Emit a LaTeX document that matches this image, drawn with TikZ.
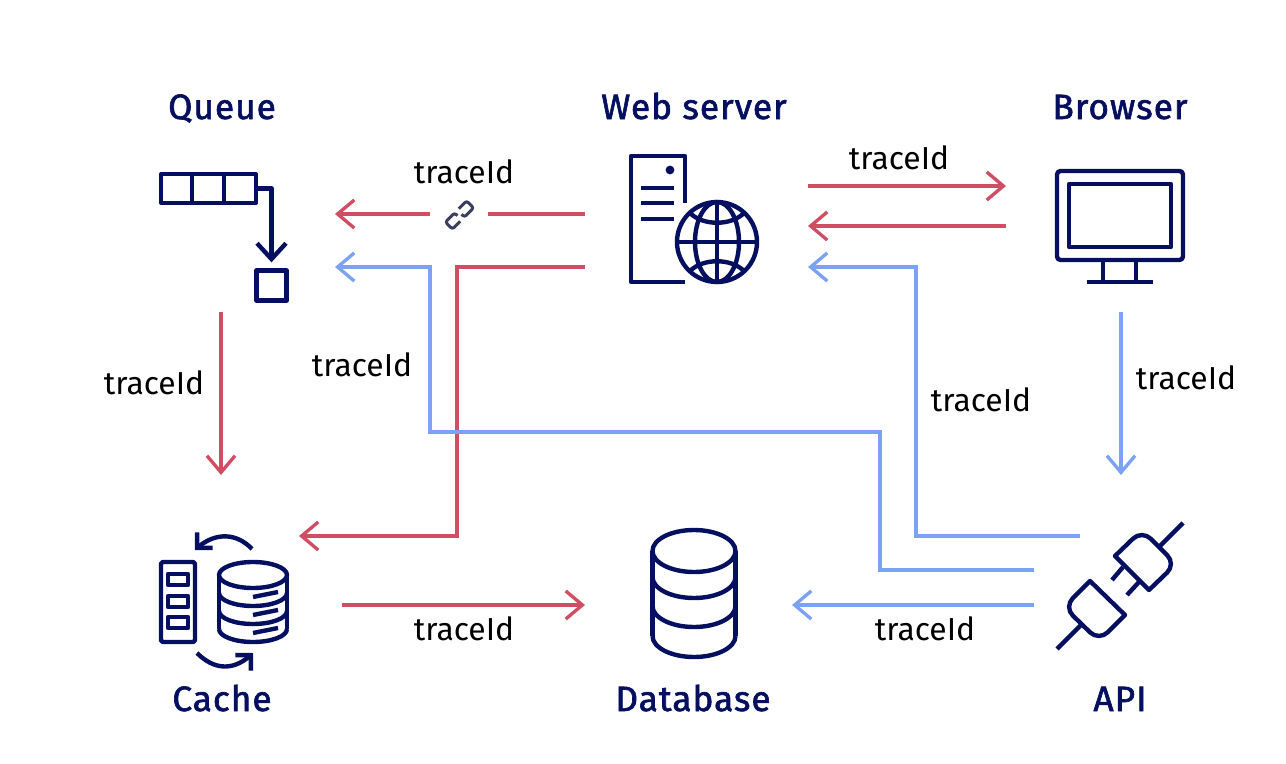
\documentclass[tikz,border=0pt]{standalone}
\usepackage{fontspec}
\setmainfont{Fira Sans}
\newfontfamily\titlefont[FakeBold=1.8, LetterSpace=3]{Fira Sans}
\usetikzlibrary{arrows.meta,bending}
\definecolor{navyc}{HTML}{050F60}
\definecolor{redc}{HTML}{D04E63}
\definecolor{bluec}{HTML}{7CA2F6}
\definecolor{linkc}{HTML}{3A3F5E}
\tikzset{
    title/.style={text=navyc, font=\titlefont\fontsize{20}{22}\selectfont, inner sep=0pt, anchor=base},
    tracelabel/.style={text=black, font=\fontsize{18.1}{20}\selectfont, inner sep=0pt},
    icon/.style={draw=navyc, line width=2.5pt, line join=round},
    redline/.style={draw=redc, line width=1.9pt, -{Straight Barb[length=9.5pt, width=16pt, line width=1.9pt]}},
    blueline/.style={draw=bluec, line width=1.9pt, -{Straight Barb[length=9.5pt, width=16pt, line width=1.9pt]}},
    redplain/.style={draw=redc, line width=1.9pt},
    navyarrow/.style={icon, -{Straight Barb[length=9pt, width=16.5pt, line width=2.5pt]}},
    cyclearrow/.style={icon, -{Straight Barb[length=6.2pt, width=12.5pt, line width=2.5pt, flex=0]}}
}

\begin{document}
\begin{tikzpicture}[x=0.02cm, y=-0.02cm]
            \useasboundingbox (0,0) rectangle (1286,764);

            \node[title] (queue) at (222,119) {Queue};
            \node[title] (web) at (694,119) {Web server};
            \node[title] (browser) at (1120,119) {Browser};
            \node[title] (cache) at (222,711) {Cache};
            \node[title] (database) at (693,711) {Database};
            \node[title] (api) at (1120,711) {API};

            \node[tracelabel] (tracea) at (464,172) {traceId};
            \node[tracelabel] (traceb) at (899,158) {traceId};
            \node[tracelabel] (tracec) at (362,365) {traceId};
            \node[tracelabel] (traced) at (154,383) {traceId};
            \node[tracelabel] (tracee) at (1186,378) {traceId};
            \node[tracelabel] (tracef) at (981,400) {traceId};
            \node[tracelabel] (traceg) at (464,629) {traceId};
            \node[tracelabel] (traceh) at (925,629) {traceId};

            \coordinate (webA) at (585,214);
            \coordinate (webB) at (585,267);
            \coordinate (webC) at (808,186);
            \coordinate (webD) at (808,226);
            \coordinate (webE) at (808,267);
            \coordinate (queueA) at (335,214);
            \coordinate (queueB) at (335,267);
            \coordinate (queueC) at (221,312);
            \coordinate (browserA) at (1006,186);
            \coordinate (browserB) at (1006,226);
            \coordinate (browserC) at (1121,312);
            \coordinate (cacheA) at (221,475);
            \coordinate (cacheB) at (299,536);
            \coordinate (cacheC) at (342,605);
            \coordinate (databaseA) at (585,605);
            \coordinate (databaseB) at (792,605);
            \coordinate (apiA) at (1121,475);
            \coordinate (apiB) at (1080,536);
            \coordinate (apiC) at (1034,570);
            \coordinate (apiD) at (1034,605);

            \node[minimum width=1.16cm, minimum height=0.7cm, inner sep=0pt] (link) at (459,214) {};
            \draw[redplain] (webA) -- (link);
            \draw[redline] (link) -- (queueA);
            \begin{scope}[shift={(459.5,215)}, rotate=45, line width=1.7pt, rounded corners=1.4pt]
                \draw[linkc] (-4,5) -- (-15,5) -- (-15,-5) -- (-2,-5) -- (-2,-1);
                \draw[linkc] (4,-5) -- (15,-5) -- (15,5) -- (2,5) -- (2,1);
            \end{scope}

            \draw[redline] (webB) -- (457,267) -- (457,536) -- (cacheB);
            \draw[blueline] (apiC) -- (880,570) -- (880,432) -- (430,432) -- (430,267) -- (queueB);
            \draw[blueline] (apiB) -- (916,536) -- (916,267) -- (webE);
            \draw[redline] (webC) -- (browserA);
            \draw[redline] (browserB) -- (webD);
            \draw[redline] (queueC) -- (cacheA);
            \draw[blueline] (browserC) -- (apiA);
            \draw[redline] (cacheC) -- (databaseA);
            \draw[blueline] (apiD) -- (databaseB);

            \node[icon, draw, minimum width=1.89cm, minimum height=0.58cm, inner sep=0pt] (queuebar) at (208.5,188.5) {};
            \draw[icon] (192,175) -- (192,203);
            \draw[icon] (224,175) -- (224,203);
            \node[icon, draw, minimum width=0.6cm, minimum height=0.6cm, inner sep=0pt] (queueslot) at (271.5,285.5) {};
            \draw[navyarrow] (queuebar.east) -| ([yshift=3.4pt]queueslot.north);

            \draw[icon] (685,203) -- (685,156) -- (631,156) -- (631,282) -- (685,282);
            \fill[navyc] (670,170) circle [radius=4.4];
            \draw[icon] (641,188) -- (674,188);
            \draw[icon] (641,203) -- (674,203);
            \draw[icon] (641,219) -- (674,219);
            \draw[icon] (717,242) circle [radius=40];
            \draw[icon] (717,242) ellipse [x radius=22, y radius=40];
            \draw[icon] (717,202) -- (717,282);
            \draw[icon] (677,242) -- (757,242);
            \draw[icon] (690,213) .. controls (703,226) and (731,226) .. (744,213);
            \draw[icon] (690,271) .. controls (703,258) and (731,258) .. (744,271);

            \draw[icon, rounded corners=2pt] (1057,171) rectangle (1183,260);
            \draw[icon] (1069,184) rectangle (1171,247);
            \draw[icon] (1103,260) -- (1103,282);
            \draw[icon] (1136,260) -- (1136,282);
            \draw[icon] (1087,282) -- (1153,282);

            \draw[icon, rounded corners=1pt] (161,562) rectangle (195,642);
            \draw[icon] (168,574) rectangle (188,585);
            \draw[icon] (168,596) rectangle (188,607);
            \draw[icon] (168,617) rectangle (188,628);
            \draw[icon] (253,575) ellipse [x radius=34, y radius=13];
            \draw[icon] (219,575) -- (219,629);
            \draw[icon] (287,575) -- (287,629);
            \draw[icon] (219,593) arc [start angle=180, end angle=0, x radius=34, y radius=13];
            \draw[icon] (219,611) arc [start angle=180, end angle=0, x radius=34, y radius=13];
            \draw[icon] (219,629) arc [start angle=180, end angle=0, x radius=34, y radius=13];
            \draw[icon] (253,597) -- (278,592);
            \draw[icon] (253,615) -- (278,610);
            \draw[icon] (253,633) -- (278,628);
            \draw[cyclearrow] (252,549) .. controls (235,531) and (212,533) .. (195,550);
            \draw[cyclearrow] (197,653) .. controls (215,671) and (235,671) .. (253,653);

            \draw[icon] (694,551) ellipse [x radius=41.5, y radius=21];
            \draw[icon] (652.5,551) -- (652.5,636);
            \draw[icon] (735.5,551) -- (735.5,636);
            \draw[icon] (652.5,577) arc [start angle=180, end angle=0, x radius=41.5, y radius=21];
            \draw[icon] (652.5,606) arc [start angle=180, end angle=0, x radius=41.5, y radius=21];
            \draw[icon] (652.5,636) arc [start angle=180, end angle=0, x radius=41.5, y radius=21];

            \draw[icon] (1183,523) -- (1158,548);
            \draw[icon] (1115,556) [rounded corners=7pt] -- (1142,530) -- (1176,564) [sharp corners] -- (1149,590) -- cycle;
            \draw[icon] (1123,567) -- (1112,580);
            \draw[icon] (1139,582) -- (1127,595);
            \draw[icon] (1090,581) -- (1125,615) [rounded corners=7pt] -- (1099,641) -- (1064,607) [sharp corners] -- cycle;
            \draw[icon] (1081,625) -- (1057,649);

        \end{tikzpicture}
\end{document}
